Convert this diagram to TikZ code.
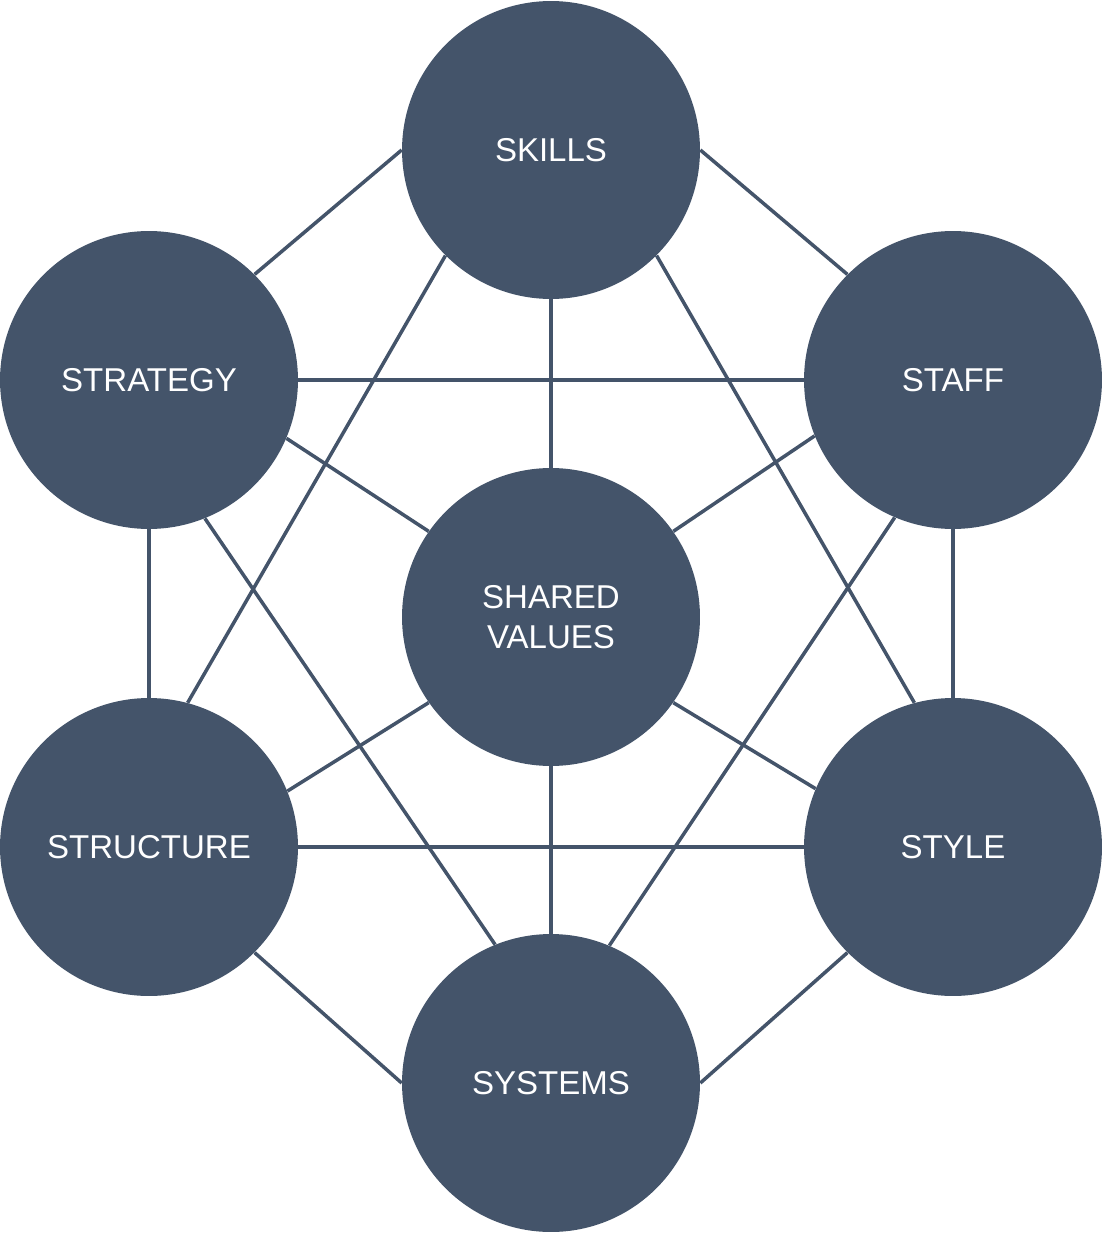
\documentclass[tikz,border=0pt]{standalone}
\usepackage{fontspec}
\newfontfamily\lblfont{Liberation Sans}
\usepackage{tikz}
\definecolor{slate}{HTML}{44546A}

\begin{document}
\begin{tikzpicture}[x=0.02cm, y=-0.02cm,
    elem/.style={circle, fill=slate, minimum size=5.96cm, inner sep=0pt,
      text=white, align=center, font=\lblfont\fontsize{18.8}{22.4}\selectfont},
    link/.style={draw=slate, line width=2pt}]
  \useasboundingbox (0,0) rectangle (1103,1233);
  \node[elem] (skills) at (551,150) {SKILLS};
  \node[elem] (strategy) at (149,380) {STRATEGY};
  \node[elem] (staff) at (953,380) {STAFF};
  \node[elem] (shared) at (551,617) {SHARED\\VALUES};
  \node[elem] (structure) at (149,847) {STRUCTURE};
  \node[elem] (style) at (953,847) {STYLE};
  \node[elem] (systems) at (551,1083) {SYSTEMS};
  \draw[link] (skills.180) -- (strategy.45);
  \draw[link] (skills.0) -- (staff.135);
  \draw[link] (skills.270) -- (shared.90);
  \draw[link] (skills.225) -- (structure.75);
  \draw[link] (skills.315) -- (style.105);
  \draw[link] (strategy.0) -- (staff.180);
  \draw[link] (strategy.337.5) -- (shared.145);
  \draw[link] (strategy.270) -- (structure.90);
  \draw[link] (strategy.292.5) -- (systems.112.5);
  \draw[link] (staff.202.5) -- (shared.35);
  \draw[link] (staff.247.5) -- (systems.67.5);
  \draw[link] (staff.270) -- (style.90);
  \draw[link] (shared.215) -- (structure.22.5);
  \draw[link] (shared.325) -- (style.157.5);
  \draw[link] (shared.270) -- (systems.90);
  \draw[link] (structure.0) -- (style.180);
  \draw[link] (structure.315) -- (systems.180);
  \draw[link] (style.225) -- (systems.0);
\end{tikzpicture}
\end{document}
